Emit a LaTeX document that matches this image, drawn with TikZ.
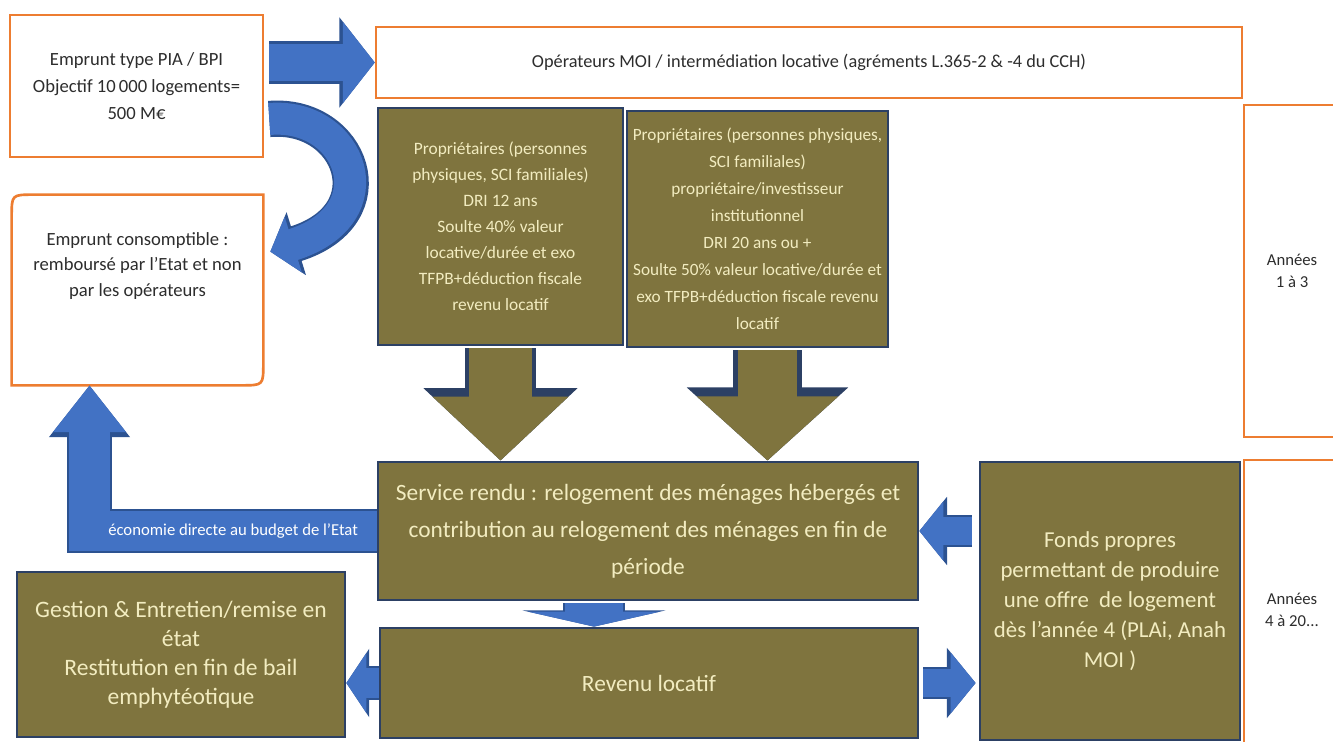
\documentclass[tikz,border=0pt]{standalone}
\usepackage{fontspec}
\setmainfont{Carlito}
\usetikzlibrary{arrows.meta,calc}
\definecolor{BoxOrange}{RGB}{237,125,49}
\definecolor{BoxOlive}{RGB}{127,116,62}
\definecolor{BoxEdge}{RGB}{44,64,100}
\definecolor{ArrowBlue}{RGB}{66,114,196}
\definecolor{ArrowEdge}{RGB}{44,82,145}
\definecolor{TextCream}{RGB}{242,236,192}
\definecolor{TextGray}{RGB}{45,45,45}
\tikzset{
  orangebox/.style={draw=BoxOrange,line width=1.5pt,fill=white,text=TextGray,align=center},
  olivebox/.style={draw=BoxEdge,line width=1.6pt,fill=BoxOlive,text=TextCream,align=center},
  blockarrow/.style args={#1/#2/#3}{line width=#1,-{Triangle[length=0pt #2,width=0pt #3]}},
  bluearrow/.style={draw=ArrowBlue,preaction={draw=ArrowEdge,line width=\pgflinewidth+1.2pt}},
  olivearrow/.style={draw=BoxOlive,preaction={draw=BoxEdge,line width=\pgflinewidth+2.4pt}}
}
\begin{document}
\begin{tikzpicture}[x=0.02cm,y=-0.02cm]
\useasboundingbox (0,0) rectangle (1333,742);
\fill[white] (0,0) rectangle (1333,742);
% financement
\node[orangebox,minimum width=5.06cm,minimum height=2.84cm,font=\fontsize{10.6}{15.5}\selectfont] (pia) at (136.5,86) {Emprunt type PIA / BPI\\Objectif 10\,000 logements=\\500 M€};
\node[orangebox,minimum width=17.32cm,minimum height=1.42cm,font=\fontsize{10.4}{12}\selectfont] (moi) at (809,62.5) {Opérateurs MOI / intermédiation locative (agréments L.365-2 \& -4 du CCH)};
\node[minimum width=5.02cm,minimum height=3.8cm] (conso) at (137.5,290) {};
\draw[draw=BoxOrange,line width=1.5pt] (conso.south west) -- ($(conso.north west)+(0,22)$) .. controls (conso.north west) .. ($(conso.north west)+(22,0)$) -- (conso.north east) -- ($(conso.south east)+(0,-22)$) .. controls (conso.south east) .. ($(conso.south east)+(-22,0)$) -- cycle;
\node[text=TextGray,align=center,font=\fontsize{10.6}{14.5}\selectfont] (consotxt) at ($(conso.center)+(0,-24)$) {Emprunt consomptible :\\remboursé par l'Etat et non\\par les opérateurs};
% proprietaires
\node[olivebox,minimum width=4.9cm,minimum height=4.74cm,font=\fontsize{9.9}{14.8}\selectfont] (prop1) at (500.5,226.5) {Propriétaires (personnes\\physiques, SCI familiales)\\DRI 12 ans\\Soulte 40\% valeur\\locative/durée et exo\\TFPB+déduction fiscale\\revenu locatif};
\node[olivebox,minimum width=5.22cm,minimum height=4.72cm,font=\fontsize{9.8}{15.4}\selectfont] (prop2) at (757.5,229) {Propriétaires (personnes physiques,\\SCI familiales)\\propriétaire/investisseur\\institutionnel\\DRI 20 ans ou +\\Soulte 50\% valeur locative/durée et\\exo TFPB+déduction fiscale revenu\\locatif};
% periodes
\node[orangebox,minimum width=1.92cm,minimum height=6.64cm,font=\fontsize{9.5}{12.5}\selectfont] (yr1) at (1292,271) {Années\\1 à 3};
\node[orangebox,minimum width=1.92cm,minimum height=6cm,font=\fontsize{9.5}{12.5}\selectfont] (yr2) at (1292,610) {Années\\4 à 20...};
% service et revenus
\node[olivebox,minimum width=10.8cm,minimum height=2.76cm,font=\fontsize{13.3}{21}\selectfont] (service) at (648,531) {Service rendu : relogement des ménages hébergés et\\contribution au relogement des ménages en fin de\\période};
\node[olivebox,minimum width=5.2cm,minimum height=5.56cm,font=\fontsize{13}{17}\selectfont] (fonds) at (1110,601) {Fonds propres\\permettant de produire\\une offre\ \ de logement\\dès l'année 4 (PLAi, Anah\\MOI )};
\node[olivebox,minimum width=10.76cm,minimum height=2.2cm,font=\fontsize{13.3}{15}\selectfont] (revenu) at (649,683) {Revenu locatif};
\node[olivebox,minimum width=6.56cm,minimum height=3.3cm,font=\fontsize{13.4}{16.5}\selectfont] (gestion) at (181,654.5) {Gestion \& Entretien/remise en\\état\\Restitution en fin de bail\\emphytéotique};
% fleches
\draw[bluearrow,blockarrow=21.6pt/0.84/2.1,shorten <=0.1cm] (pia.east |- moi.west) -- (moi.west);
\draw[bluearrow,blockarrow=18.2pt/0.75/1.78] ($(pia.east)+(5,33)$) .. controls +(82,-7) and +(120,-37) .. ($(conso.north east)+(7,57)$);
\coordinate (ecotip) at ($(conso.south)+(-48,0)$);
\draw[bluearrow,blockarrow=22.8pt/1.17/1.75] (service.west) -| (ecotip) node[pos=0.25,text=white,font=\fontsize{9.5}{11}\selectfont] (eco) {économie directe au budget de l'Etat};
\draw[olivearrow,blockarrow=35.3pt/1.03/2.13,shorten <=1pt] (prop1.south) -- (prop1.south |- service.north);
\coordinate (p2s) at ($(prop2.south)+(10,0)$);
\draw[olivearrow,blockarrow=34.1pt/1.07/2.3,shorten <=1pt] (p2s) -- (p2s |- service.north);
\coordinate (sr) at ($(service.south)+(-54,0)$);
\draw[bluearrow,blockarrow=33pt/0.26/2.29,shorten <=1pt] (sr) -- (sr |- revenu.north);
\draw[bluearrow,blockarrow=15.9pt/0.86/2.08,shorten <=0.14cm] (fonds.west |- service.east) -- (service.east);
\draw[bluearrow,blockarrow=15.4pt/0.92/2.2,shorten <=0.08cm,shorten >=0.06cm] (revenu.east) -- (fonds.west |- revenu.east);
\draw[bluearrow,blockarrow=17pt/0.67/1.98] (revenu.west) -- (gestion.east |- revenu.west);
\end{tikzpicture}
\end{document}
